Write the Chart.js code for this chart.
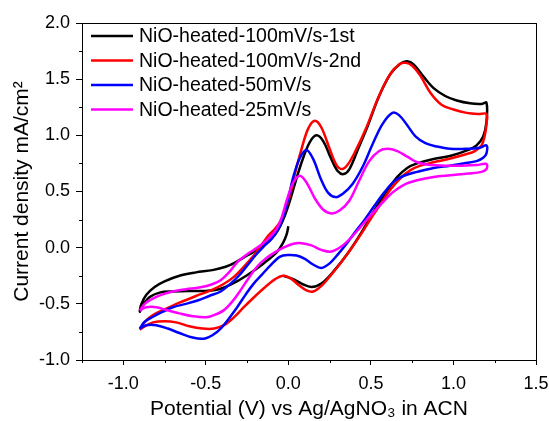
<!DOCTYPE html>
<html>
<head>
<meta charset="utf-8">
<script src="https://cdn.jsdelivr.net/npm/chart.js@4.4.1/dist/chart.umd.min.js"></script>
<style>
  html, body { margin: 0; padding: 0; background: #fff; }
  canvas { display: block; }
</style>
</head>
<body>
<canvas id="cv" width="549" height="421"></canvas>
<script>
// Potential (V) / current density (mA/cm2) pairs, in scan order
const seriesNames = ['NiO-heated-100mV/s-1st', 'NiO-heated-100mV/s-2nd', 'NiO-heated-50mV/s', 'NiO-heated-25mV/s'];
const seriesColors = ['#000000', '#ff0000', '#0000ff', '#ff00ff'];

const scan100First = [
  [0.0, 0.19], [-0.01, 0.12], [-0.03, 0.05], [-0.07, -0.04], [-0.15, -0.14], [-0.25, -0.245],
  [-0.35, -0.33], [-0.42, -0.37], [-0.5, -0.385], [-0.6, -0.385], [-0.7, -0.39], [-0.78, -0.40],
  [-0.84, -0.44], [-0.88, -0.51], [-0.9, -0.57],
  [-0.89, -0.50], [-0.86, -0.42], [-0.81, -0.35], [-0.75, -0.30], [-0.66, -0.25], [-0.56, -0.22],
  [-0.46, -0.20], [-0.38, -0.17], [-0.32, -0.13], [-0.25, -0.07], [-0.18, -0.01], [-0.12, 0.06],
  [-0.08, 0.12], [-0.05, 0.19], [-0.02, 0.29], [0.01, 0.42], [0.05, 0.62], [0.09, 0.80],
  [0.13, 0.94], [0.17, 1.0], [0.21, 0.95], [0.26, 0.79], [0.30, 0.68], [0.335, 0.655],
  [0.37, 0.70], [0.42, 0.87], [0.48, 1.08], [0.55, 1.35], [0.62, 1.55], [0.68, 1.64],
  [0.72, 1.66], [0.76, 1.63], [0.82, 1.52], [0.88, 1.42], [0.95, 1.35], [1.02, 1.31],
  [1.10, 1.285], [1.17, 1.28], [1.2, 1.29],
  [1.2, 1.12], [1.18, 0.99], [1.14, 0.91], [1.09, 0.87], [0.99, 0.82], [0.88, 0.79],
  [0.78, 0.75], [0.72, 0.71], [0.66, 0.63], [0.60, 0.51], [0.52, 0.33], [0.44, 0.13],
  [0.36, -0.05], [0.28, -0.20], [0.20, -0.32], [0.14, -0.35], [0.08, -0.32], [0.03, -0.28],
  [-0.03, -0.25]
];

const scan100Second = [
  [-0.9, -0.73], [-0.87, -0.66], [-0.82, -0.60], [-0.75, -0.55], [-0.66, -0.49], [-0.56, -0.43],
  [-0.47, -0.38], [-0.40, -0.33], [-0.33, -0.26], [-0.27, -0.17], [-0.21, -0.07], [-0.16, 0.03],
  [-0.12, 0.11], [-0.08, 0.17], [-0.05, 0.23], [-0.02, 0.33], [0.01, 0.47], [0.04, 0.66],
  [0.08, 0.88], [0.12, 1.06], [0.16, 1.13], [0.20, 1.07], [0.25, 0.88], [0.29, 0.74],
  [0.325, 0.70], [0.36, 0.74], [0.41, 0.87], [0.47, 1.06], [0.54, 1.32], [0.61, 1.53],
  [0.67, 1.63], [0.71, 1.645], [0.75, 1.62], [0.80, 1.53], [0.86, 1.38], [0.93, 1.27],
  [1.0, 1.23], [1.08, 1.20], [1.15, 1.19], [1.2, 1.19],
  [1.2, 1.10], [1.19, 1.0], [1.17, 0.91], [1.13, 0.86], [1.07, 0.83], [0.97, 0.79],
  [0.88, 0.76], [0.80, 0.73], [0.74, 0.69], [0.68, 0.62], [0.62, 0.52], [0.56, 0.39],
  [0.50, 0.26], [0.44, 0.12], [0.38, -0.01], [0.32, -0.13], [0.26, -0.24], [0.20, -0.34],
  [0.15, -0.39], [0.11, -0.38], [0.06, -0.33], [0.02, -0.28], [-0.03, -0.25], [-0.08, -0.28],
  [-0.14, -0.35], [-0.20, -0.43], [-0.27, -0.53], [-0.33, -0.62], [-0.39, -0.69], [-0.45, -0.72],
  [-0.52, -0.72], [-0.60, -0.70], [-0.68, -0.665], [-0.75, -0.655], [-0.82, -0.665], [-0.87, -0.70],
  [-0.9, -0.73]
];

const scan50 = [
  [-0.9, -0.72], [-0.87, -0.66], [-0.82, -0.615], [-0.76, -0.57], [-0.70, -0.53], [-0.62, -0.50],
  [-0.55, -0.47], [-0.48, -0.43], [-0.41, -0.39], [-0.35, -0.32], [-0.30, -0.25], [-0.25, -0.16],
  [-0.20, -0.07], [-0.15, 0.01], [-0.10, 0.08], [-0.06, 0.17], [-0.03, 0.28], [0.0, 0.44],
  [0.03, 0.63], [0.07, 0.80], [0.11, 0.87], [0.15, 0.79], [0.20, 0.60], [0.24, 0.49],
  [0.285, 0.45], [0.33, 0.48], [0.39, 0.57], [0.45, 0.72], [0.51, 0.92], [0.57, 1.10],
  [0.63, 1.20], [0.67, 1.18], [0.72, 1.09], [0.77, 0.99], [0.83, 0.93], [0.90, 0.90],
  [0.98, 0.88], [1.08, 0.88], [1.16, 0.89], [1.2, 0.91],
  [1.2, 0.84], [1.18, 0.80], [1.14, 0.77], [1.06, 0.75], [0.98, 0.73], [0.88, 0.71],
  [0.78, 0.675], [0.70, 0.64], [0.64, 0.59], [0.58, 0.49], [0.52, 0.37], [0.46, 0.245],
  [0.40, 0.13], [0.35, 0.03], [0.30, -0.06], [0.25, -0.14], [0.20, -0.18], [0.15, -0.15],
  [0.10, -0.10], [0.05, -0.07], [0.0, -0.065], [-0.05, -0.08], [-0.11, -0.16], [-0.16, -0.24],
  [-0.21, -0.32], [-0.26, -0.42], [-0.31, -0.53], [-0.36, -0.63], [-0.41, -0.72], [-0.46, -0.78],
  [-0.51, -0.81], [-0.58, -0.80], [-0.66, -0.76], [-0.73, -0.72], [-0.80, -0.69], [-0.86, -0.69],
  [-0.9, -0.72]
];

const scan25 = [
  [-0.9, -0.56], [-0.87, -0.50], [-0.83, -0.46], [-0.77, -0.42], [-0.70, -0.39], [-0.62, -0.37],
  [-0.54, -0.355], [-0.47, -0.33], [-0.41, -0.29], [-0.36, -0.22], [-0.31, -0.13], [-0.26, -0.07],
  [-0.21, -0.02], [-0.16, 0.03], [-0.11, 0.096], [-0.07, 0.17], [-0.04, 0.27], [-0.01, 0.42],
  [0.03, 0.58], [0.07, 0.64], [0.11, 0.58], [0.16, 0.44], [0.21, 0.34], [0.26, 0.305],
  [0.31, 0.33], [0.37, 0.42], [0.43, 0.60], [0.49, 0.77], [0.55, 0.86], [0.60, 0.88],
  [0.66, 0.86], [0.72, 0.81], [0.78, 0.76], [0.86, 0.735], [0.95, 0.73], [1.05, 0.73],
  [1.14, 0.735], [1.2, 0.745],
  [1.2, 0.70], [1.17, 0.675], [1.09, 0.66], [0.98, 0.645], [0.88, 0.63], [0.78, 0.60],
  [0.70, 0.56], [0.63, 0.49], [0.57, 0.40], [0.50, 0.29], [0.44, 0.19], [0.38, 0.09],
  [0.32, 0.01], [0.26, -0.035], [0.20, -0.02], [0.14, 0.02], [0.08, 0.04], [0.03, 0.035],
  [-0.03, 0.0], [-0.08, -0.04], [-0.14, -0.10], [-0.19, -0.17], [-0.24, -0.27], [-0.29, -0.38],
  [-0.34, -0.48], [-0.39, -0.556], [-0.45, -0.60], [-0.50, -0.62], [-0.58, -0.61], [-0.66, -0.585],
  [-0.74, -0.555], [-0.80, -0.53], [-0.86, -0.53], [-0.9, -0.56]
];

const xMajorTicks = [-1.0, -0.5, 0.0, 0.5, 1.0, 1.5];
const xMinorTicks = [-1.25, -0.75, -0.25, 0.25, 0.75, 1.25];
const yMinorTicks = [1.75, 1.25, 0.75, 0.25, -0.25, -0.75];

const FONT = 'Liberation Sans, Arial, sans-serif';
const allSeries = [scan100First, scan100Second, scan50, scan25];

// last dataset on top, like the original plot
const datasets = allSeries.map((pts, i) => ({
    label: seriesNames[i],
    data: pts.map(p => ({ x: p[0], y: p[1] })),
    borderColor: seriesColors[i],
    backgroundColor: seriesColors[i],
    borderWidth: 2.5,
    pointRadius: 0,
    showLine: true,
    fill: false,
    tension: 0.35,
    order: allSeries.length - i
}));

// frame, minor ticks and the legend in the top-left corner
const framePlugin = {
    id: 'frame',
    afterDraw(chart) {
        const { ctx, chartArea: a, scales } = chart;
        ctx.save();
        ctx.strokeStyle = '#000';
        ctx.lineWidth = 1;
        ctx.strokeRect(a.left + 0.5, a.top + 0.5, a.right - a.left, a.bottom - a.top);

        ctx.beginPath();
        xMinorTicks.forEach(v => {
            const px = Math.round(scales.x.getPixelForValue(v)) + 0.5;
            ctx.moveTo(px, a.bottom);
            ctx.lineTo(px, a.bottom + 3);
        });
        yMinorTicks.forEach(v => {
            const py = Math.round(scales.y.getPixelForValue(v)) + 0.5;
            ctx.moveTo(a.left, py);
            ctx.lineTo(a.left - 3, py);
        });
        ctx.stroke();

        ctx.font = '19.5px ' + FONT;
        ctx.textBaseline = 'middle';
        ctx.textAlign = 'left';
        seriesNames.forEach((name, i) => {
            const y = a.top + 13 + i * 24.5;
            ctx.strokeStyle = seriesColors[i];
            ctx.lineWidth = 2.5;
            ctx.beginPath();
            ctx.moveTo(a.left + 9, y);
            ctx.lineTo(a.left + 51, y);
            ctx.stroke();
            ctx.fillStyle = '#000';
            ctx.fillText(name, a.left + 57, y + 1);
        });
        ctx.restore();
    }
};

new Chart(document.getElementById('cv'), {
    type: 'scatter',
    data: { datasets },
    options: {
        responsive: false,
        animation: false,
        layout: { padding: { top: 23, right: 13, left: 0, bottom: 0 } },
        plugins: {
            legend: { display: false },
            tooltip: { enabled: false }
        },
        scales: {
            x: {
                type: 'linear',
                min: -1.25,
                max: 1.5,
                afterBuildTicks: scale => { scale.ticks = xMajorTicks.map(v => ({ value: v })); },
                afterFit: scale => {
                    scale.height = 61;
                    scale.paddingLeft = 0;
                    scale.paddingRight = 0;
                },
                grid: { drawOnChartArea: false, drawTicks: true, tickLength: 5, color: '#000' },
                border: { display: true, color: '#000', width: 1 },
                ticks: {
                    color: '#000',
                    padding: 8,
                    maxRotation: 0,
                    font: { family: FONT, size: 18 },
                    callback: v => Number(v).toFixed(1)
                },
                title: {
                    display: true,
                    text: 'Potential (V) vs Ag/AgNO\u2083 in ACN',
                    color: '#000',
                    font: { family: FONT, size: 21, lineHeight: 1 },
                    padding: { top: 0, bottom: 1 }
                }
            },
            y: {
                type: 'linear',
                min: -1,
                max: 2,
                afterFit: scale => {
                    scale.width = 82;
                    scale.paddingTop = 0;
                    scale.paddingBottom = 0;
                },
                grid: { drawOnChartArea: false, drawTicks: true, tickLength: 6, color: '#000' },
                border: { display: true, color: '#000', width: 1 },
                ticks: {
                    stepSize: 0.5,
                    color: '#000',
                    padding: 6,
                    font: { family: FONT, size: 18 },
                    callback: v => Number(v).toFixed(1)
                },
                title: {
                    display: true,
                    text: 'Current density mA/cm\u00b2',
                    color: '#000',
                    font: { family: FONT, size: 21, lineHeight: 1 },
                    padding: { top: 12, bottom: 0 }
                }
            }
        }
    },
    plugins: [framePlugin]
});
</script>
</body>
</html>
